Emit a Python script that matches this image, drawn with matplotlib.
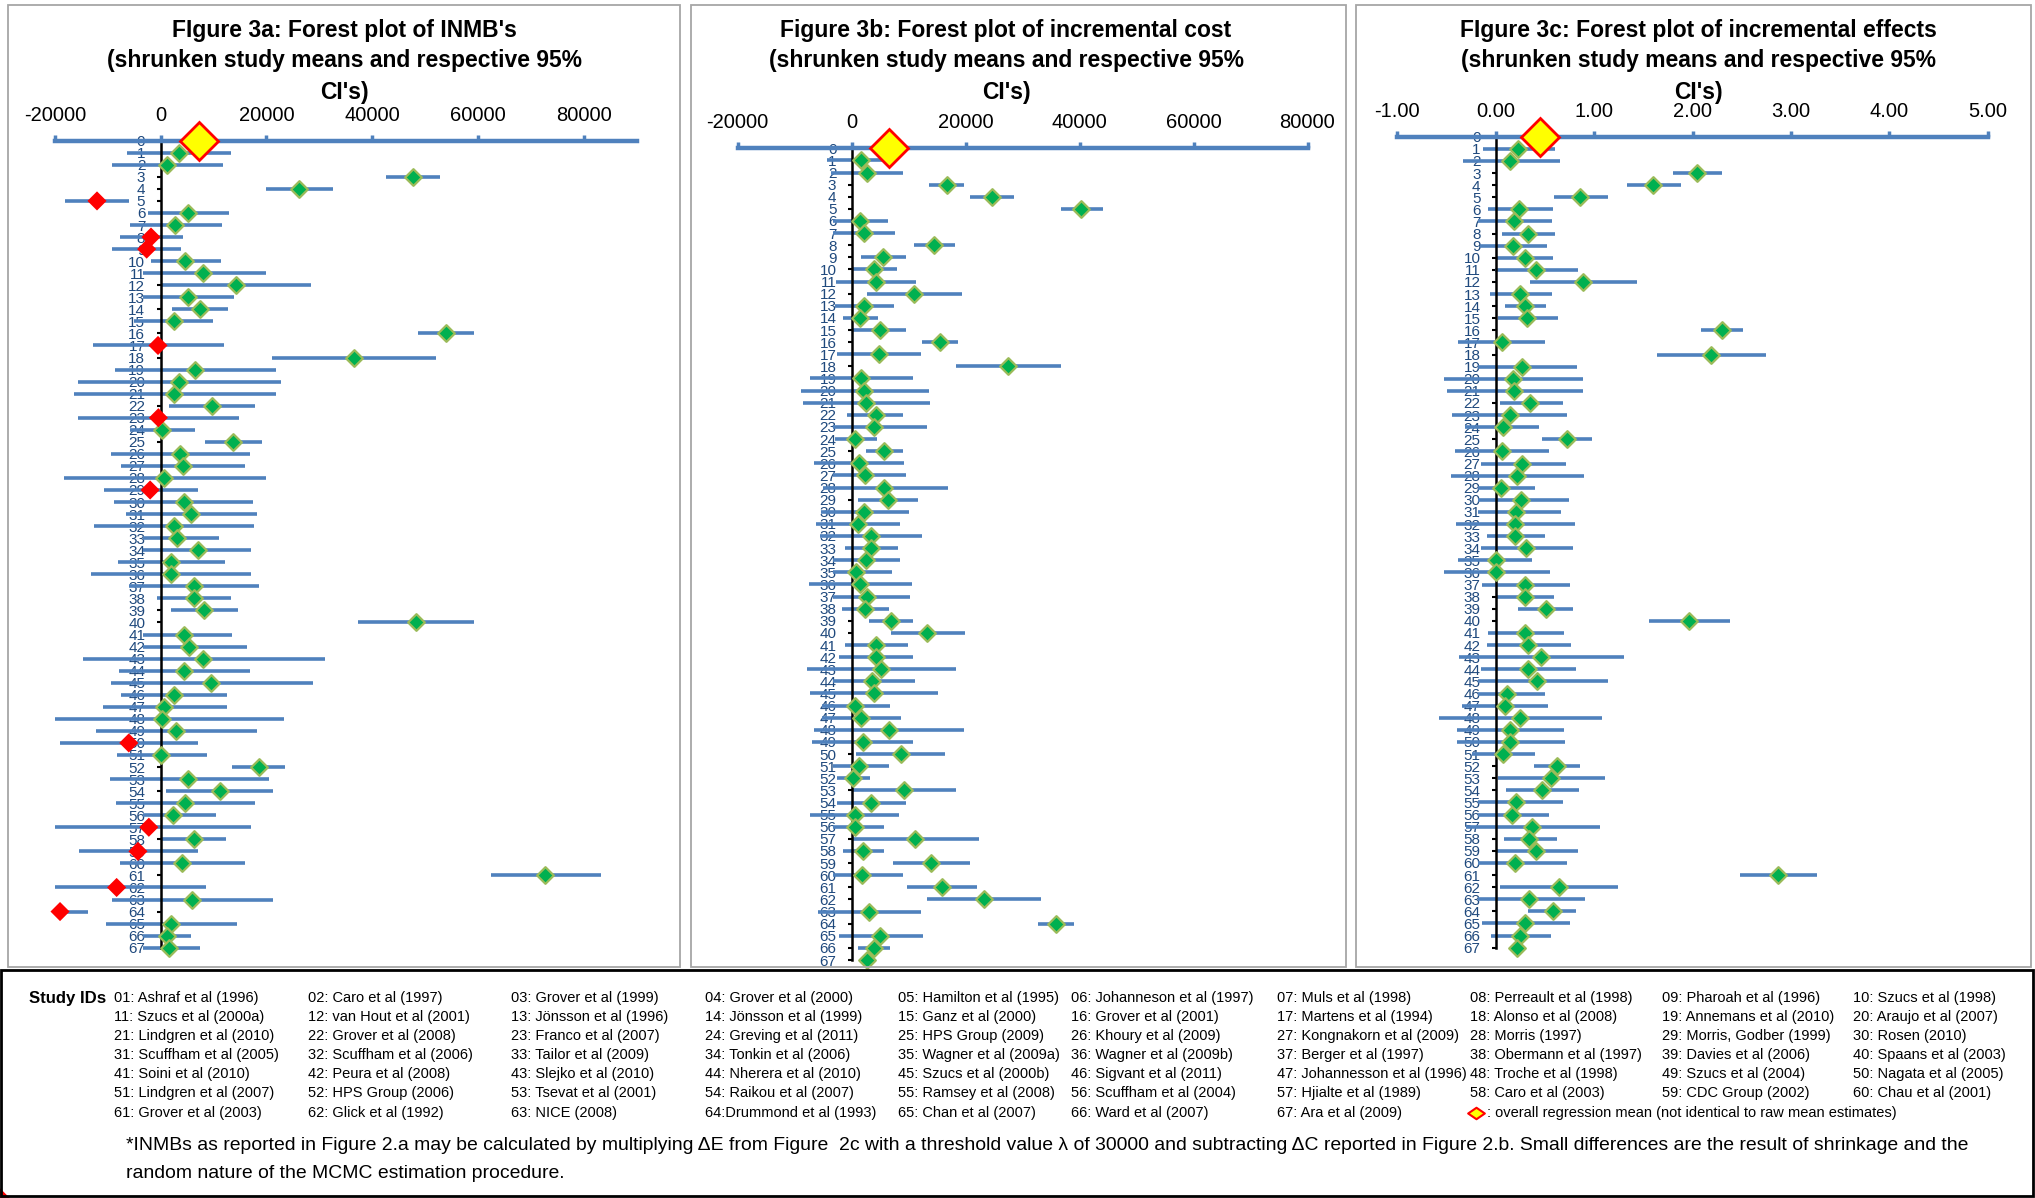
import matplotlib
matplotlib.use("Agg")
import matplotlib.pyplot as plt
import numpy as np
from matplotlib.patches import Rectangle
from matplotlib.path import Path

FAM = ["Liberation Sans", "DejaVu Sans"]

W, H = 2035, 1198

# ---------------- data (rows 1..67) ----------------
inmb_overall = 7200
inmb_mean = [3460, 1150, 47730, 26090, -12020, 5100, 2800, -1810, -2630, 4690,
             7980, 14240, 5190, 7410, 2470, 53900, -490, 36620, 6580, 3540,
             2550, 9630, -410, 250, 13660, 3620, 4280, 660, -1980, 4360,
             5760, 2470, 3050, 7000, 2060, 1890, 6340, 6250, 8230, 48230,
             4440, 5430, 8070, 4440, 9550, 2470, 740, 330, 2880, -6010,
             160, 18520, 5270, 11190, 4610, 2300, -2220, 6340, -4280, 4030,
             72750, -8310, 6010, -19010, 1980, 1230, 1650]
inmb_lo = [-6340, -9140, 42630, 20000, -18110, -2470, -5760, -7740, -9140, -1890,
           -3290, 250, -3290, 2220, -5000, 48720, -12760, 21150, -8560, -15550,
           -16380, 1560, -15640, -5760, 8310, -9300, -7570, -18350, -10700, -8720,
           -6580, -12670, -3290, -3290, -7980, -13250, -5930, -660, 2060, 37280,
           -3290, -3290, -14650, -7900, -9460, -7490, -10860, -20000, -12180, -19010,
           -8230, 13580, -9630, 1070, -8480, -3290, -20000, 250, -15390, -7650,
           62550, -20000, -9220, -20000, -10370, -3290, -3290]
inmb_hi = [13330, 11770, 52920, 32510, -5930, 12920, 11690, 4280, 3790, 11360,
           19920, 28480, 13830, 12840, 9960, 59260, 11930, 52010, 21890, 22800,
           21890, 17860, 14900, 6420, 19180, 16870, 16050, 19920, 7080, 17530,
           18190, 17690, 11110, 17120, 12260, 17120, 18680, 13250, 14570, 59260,
           13580, 16300, 31110, 16950, 28810, 12510, 12510, 23370, 18190, 7080,
           8720, 23540, 20580, 21320, 17860, 10450, 17040, 12350, 7080, 15880,
           83210, 8560, 21320, -13740, 14400, 5840, 7410]

cost_overall = 6490
cost_mean = [1620, 2660, 16680, 24580, 40220, 1550, 2140, 14460, 5540, 3840,
             4210, 11000, 2210, 1400, 4940, 15500, 4870, 27450, 1700, 2210,
             2580, 4210, 3910, 660, 5680, 1250, 2360, 5760, 6350, 2210,
             1110, 3320, 3470, 2440, 810, 1400, 2730, 2360, 6860, 13280,
             4210, 4280, 5090, 3620, 3840, 590, 1620, 6570, 1920, 8630,
             1330, 220, 9150, 3320, 520, 660, 11140, 1990, 13950, 1850,
             15790, 23170, 3100, 35870, 5020, 3840, 2730]
cost_lo = [-4350, -3620, 13650, 20810, 36680, -3250, -3250, 10920, 1700, 0,
           -2730, 2730, -2880, -1550, 300, 12400, -2510, 18230, -7230, -8930,
           -8560, -740, -3250, -2880, 2580, -6570, -3250, -5090, 1030, -5460,
           -6200, -5610, -1180, -3250, -3250, -7450, -3250, -1770, 3100, 6940,
           -1180, -2140, -7900, -3250, -7310, -5240, -5240, -6570, -7010, 740,
           -3250, -2510, 150, -2510, -7310, -3250, 150, -1550, 7310, -3250,
           9670, 13210, -5830, 32770, -2290, 1110, 2730]
cost_hi = [7530, 8930, 19780, 28490, 44060, 6350, 7530, 18150, 9520, 7970,
           11290, 19410, 7380, 4650, 9520, 18670, 12250, 36750, 10850, 13500,
           13800, 9080, 13140, 4430, 9080, 9230, 9450, 16900, 11730, 10040,
           8560, 12400, 8190, 8560, 7010, 10550, 10260, 6640, 10700, 19850,
           9820, 10850, 18300, 11070, 15130, 6720, 8710, 19780, 10850, 16380,
           6570, 3250, 18230, 9520, 8340, 5680, 22290, 5610, 20740, 8930,
           22070, 33280, 12100, 38970, 12550, 6720, 2730]

eff_overall = 0.45
eff_mean = [0.23, 0.15, 2.04, 1.60, 0.86, 0.24, 0.19, 0.33, 0.18, 0.30,
            0.41, 0.89, 0.25, 0.30, 0.32, 2.30, 0.06, 2.19, 0.27, 0.18,
            0.19, 0.35, 0.14, 0.07, 0.72, 0.06, 0.27, 0.22, 0.05, 0.26,
            0.21, 0.20, 0.20, 0.31, 0.00, 0.00, 0.30, 0.30, 0.51, 1.96,
            0.30, 0.33, 0.46, 0.33, 0.42, 0.11, 0.09, 0.25, 0.14, 0.15,
            0.07, 0.62, 0.56, 0.47, 0.21, 0.17, 0.37, 0.34, 0.41, 0.20,
            2.87, 0.64, 0.34, 0.58, 0.30, 0.25, 0.22]
eff_lo = [-0.13, -0.33, 1.80, 1.33, 0.59, -0.08, -0.18, 0.06, -0.16, 0.01,
          -0.01, 0.35, -0.06, 0.09, 0.02, 2.09, -0.38, 1.64, -0.18, -0.53,
          -0.50, 0.04, -0.44, -0.31, 0.47, -0.41, -0.15, -0.45, -0.18, -0.18,
          -0.18, -0.40, -0.09, -0.15, -0.38, -0.53, -0.14, 0.01, 0.23, 1.56,
          -0.08, -0.09, -0.37, -0.15, -0.18, -0.18, -0.34, -0.58, -0.39, -0.39,
          -0.24, 0.39, 0.02, 0.10, -0.18, -0.18, -0.30, 0.08, 0.01, -0.18,
          2.48, 0.04, -0.18, 0.33, -0.14, -0.05, 0.22]
eff_hi = [0.60, 0.65, 2.30, 1.88, 1.14, 0.58, 0.57, 0.60, 0.52, 0.58,
          0.84, 1.44, 0.57, 0.51, 0.63, 2.51, 0.50, 2.75, 0.83, 0.89,
          0.89, 0.68, 0.72, 0.44, 0.98, 0.54, 0.71, 0.90, 0.40, 0.74,
          0.66, 0.81, 0.50, 0.79, 0.37, 0.55, 0.75, 0.59, 0.78, 2.38,
          0.69, 0.76, 1.30, 0.82, 1.14, 0.50, 0.53, 1.08, 0.69, 0.70,
          0.40, 0.86, 1.11, 0.85, 0.68, 0.54, 1.06, 0.62, 0.84, 0.72,
          3.26, 1.24, 0.91, 0.82, 0.75, 0.56, 0.22]

studies = [
    "01: Ashraf et al (1996)", "02: Caro et al (1997)", "03: Grover et al (1999)",
    "04: Grover et al (2000)", "05: Hamilton et al (1995)", "06: Johanneson et al (1997)",
    "07: Muls et al (1998)", "08: Perreault et al (1998)", "09: Pharoah et al (1996)",
    "10: Szucs et al (1998)", "11: Szucs et al (2000a)", "12: van Hout et al (2001)",
    "13: Jönsson et al (1996)", "14: Jönsson et al (1999)", "15: Ganz et al (2000)",
    "16: Grover et al (2001)", "17: Martens et al (1994)", "18: Alonso et al (2008)",
    "19: Annemans et al (2010)", "20: Araujo et al (2007)", "21: Lindgren et al (2010)",
    "22: Grover et al (2008)", "23: Franco et al (2007)", "24: Greving et al (2011)",
    "25: HPS Group (2009)", "26: Khoury et al (2009)", "27: Kongnakorn et al (2009)",
    "28: Morris (1997)", "29: Morris, Godber (1999)", "30: Rosen (2010)",
    "31: Scuffham et al (2005)", "32: Scuffham et al (2006)", "33: Tailor et al (2009)",
    "34: Tonkin et al (2006)", "35: Wagner et al (2009a)", "36: Wagner et al (2009b)",
    "37: Berger et al (1997)", "38: Obermann et al (1997)", "39: Davies et al (2006)",
    "40: Spaans et al (2003)", "41: Soini et al (2010)", "42: Peura et al (2008)",
    "43: Slejko et al (2010)", "44: Nherera et al (2010)", "45: Szucs et al (2000b)",
    "46: Sigvant et al (2011)", "47: Johannesson et al (1996)", "48: Troche et al (1998)",
    "49: Szucs et al (2004)", "50: Nagata et al (2005)", "51: Lindgren et al (2007)",
    "52: HPS Group (2006)", "53: Tsevat et al (2001)", "54: Raikou et al (2007)",
    "55: Ramsey et al (2008)", "56: Scuffham et al (2004)", "57: Hjialte et al (1989)",
    "58: Caro et al (2003)", "59: CDC Group (2002)", "60: Chau et al (2001)",
    "61: Grover et al (2003)", "62: Glick et al (1992)", "63: NICE (2008)",
    "64:Drummond et al (1993)", "65: Chan et al (2007)", "66: Ward et al (2007)",
    "67: Ara et al (2009)",
]

titles = [
    "FIgure 3a: Forest plot of INMB's",
    "Figure 3b: Forest plot of incremental cost",
    "FIgure 3c: Forest plot of incremental effects",
]
subtitle = ["(shrunken study means and respective 95%", "CI's)"]

# ---------------- styling ----------------
BLUE = "#4F81BD"
LBLUE = "#1F497D"
GREEN = "#00B050"
GEDGE = "#9BBB59"


def fx(x):
    return x / W


def fy(y):
    return 1 - y / H


fig = plt.figure(figsize=(W / 100, H / 100), dpi=100)
renderer = fig.canvas.get_renderer()


def fit(texts, target_px):
    # scale a group of texts so that the first one spans target_px
    w = texts[0].get_window_extent(renderer).width
    size = texts[0].get_fontsize() * target_px / w
    for t in texts:
        t.set_fontsize(size)


# panel frames
for x0, x1 in [(8, 680), (691, 1346), (1356, 2031)]:
    fig.add_artist(Rectangle((fx(x0), fy(967)), (x1 - x0) / W, (967 - 5) / H,
                             transform=fig.transFigure, fill=False,
                             ec="#A6A6A6", lw=1.3))

panels = [
    dict(data=(inmb_overall, inmb_mean, inmb_lo, inmb_hi), box=(54.8, 636.6, 140.7, 947.7),
         xlim=(-20000, 90000), ticks=np.arange(-20000, 80001, 20000), fmt="{:.0f}", tcx=344),
    dict(data=(cost_overall, cost_mean, cost_lo, cost_hi), box=(737.7, 1307.5, 148.3, 960.0),
         xlim=(-20000, 80000), ticks=np.arange(-20000, 80001, 20000), fmt="{:.0f}", tcx=1006),
    dict(data=(eff_overall, eff_mean, eff_lo, eff_hi), box=(1397.3, 1987.9, 136.7, 947.7),
         xlim=(-1, 5), ticks=np.arange(-1, 5.01, 1), fmt="{:.2f}", tcx=1698),
]

rows = np.arange(1, 68)
title_texts = []

for k, p in enumerate(panels):
    overall = p["data"][0]
    mean, lo, hi = [np.asarray(v, dtype=float) for v in p["data"][1:]]
    l, r, t, b = p["box"]
    ax = fig.add_axes([fx(l), fy(b), (r - l) / W, (b - t) / H])
    ax.set_xlim(*p["xlim"])
    ax.set_ylim(67, 0)
    ax.patch.set_alpha(0)

    ax.hlines(rows, lo, hi, color=BLUE, lw=2.6, zorder=2, clip_on=False)
    neg = mean < 0
    ax.scatter(mean[~neg], rows[~neg], marker="D", s=72, facecolor=GREEN,
               edgecolor=GEDGE, linewidths=1.6, zorder=4, clip_on=False)
    ax.scatter(mean[neg], rows[neg], marker="D", s=95, facecolor="#FF0000",
               edgecolor="none", zorder=4, clip_on=False)
    ax.plot([overall], [0], marker="D", ms=19, mfc="#FFFF00", mec="#FF0000",
            mew=2, clip_on=False, zorder=6, ls="none")

    for s in ["right", "bottom"]:
        ax.spines[s].set_visible(False)
    ax.spines["top"].set_color(BLUE)
    ax.spines["top"].set_linewidth(3.2)
    ax.spines["left"].set_position(("data", 0))
    ax.spines["left"].set_linestyle((0, (1, 1)))
    ax.spines["left"].set_linewidth(1.8)
    ax.spines["left"].set_color("black")

    ax.xaxis.tick_top()
    ax.set_xticks(p["ticks"])
    ax.set_xticklabels([p["fmt"].format(v) for v in p["ticks"]], fontfamily=FAM)
    ax.tick_params(axis="x", direction="out", length=4.5, width=2.5, color=BLUE,
                   pad=7, labelsize=14.5, labelcolor="black")

    ax.set_yticks(np.arange(0, 68))
    ax.set_yticklabels([str(i) for i in range(68)], fontfamily=FAM)
    ax.tick_params(axis="y", direction="out", length=3, width=1.5, color="black",
                   pad=8, labelsize=11, labelcolor=LBLUE)

    group = []
    for i, line in enumerate([subtitle[0], titles[k], subtitle[1]]):
        yy = [61, 30, 93][i]
        group.append(fig.text(fx(p["tcx"]), fy(yy), line, ha="center", va="center",
                              fontsize=17, fontweight="bold", family=FAM))
    title_texts.append(group)

for g in title_texts:
    fit(g, 477)

# ---------------- study legend ----------------
fig.add_artist(Rectangle((fx(1), fy(1196)), 2032 / W, (1196 - 970) / H,
                         transform=fig.transFigure, fill=False, ec="black", lw=2))
sid = fig.text(fx(29), fy(998), "Study IDs", ha="left", va="center", fontsize=12,
               fontweight="bold", family=FAM)
fit([sid], 77)

col_x = [114, 308, 511, 705, 898, 1071, 1277, 1470, 1662, 1853]
for i, s in enumerate(studies):
    rrow, ccol = divmod(i, 10)
    fig.text(fx(col_x[ccol]), fy(998 + 19.1 * rrow), s, ha="left", va="center",
             fontsize=10.5, family=FAM)

# wide diamond used as the legend key
wide_diamond = Path([(-1.45, 0), (0, 1), (1.45, 0), (0, -1), (-1.45, 0)],
                    [Path.MOVETO, Path.LINETO, Path.LINETO, Path.LINETO, Path.CLOSEPOLY])
leg_y = 998 + 19.1 * 6
fig.add_artist(plt.Line2D([fx(1476)], [fy(leg_y)], marker=wide_diamond, ms=12,
                          mfc="#FFFF00", mec="#FF0000", mew=1.5, ls="none",
                          transform=fig.transFigure))
fig.text(fx(1487), fy(leg_y), ": overall regression mean (not identical to raw mean estimates)",
         ha="left", va="center", fontsize=10.5, family=FAM)

foot1 = ("*INMBs as reported in Figure 2.a may be calculated by multiplying \u0394E from Figure  2c "
         "with a threshold value \u03bb of 30000 and subtracting \u0394C reported in Figure 2.b. "
         "Small differences are the result of shrinkage and the")
foot2 = "random nature of the MCMC estimation procedure."
f1 = fig.text(fx(126), fy(1146), foot1, ha="left", va="center", fontsize=14, family=FAM)
f2 = fig.text(fx(126), fy(1173), foot2, ha="left", va="center", fontsize=14, family=FAM)
fit([f1, f2], 1854)

fig.savefig("out.png", dpi=100)
